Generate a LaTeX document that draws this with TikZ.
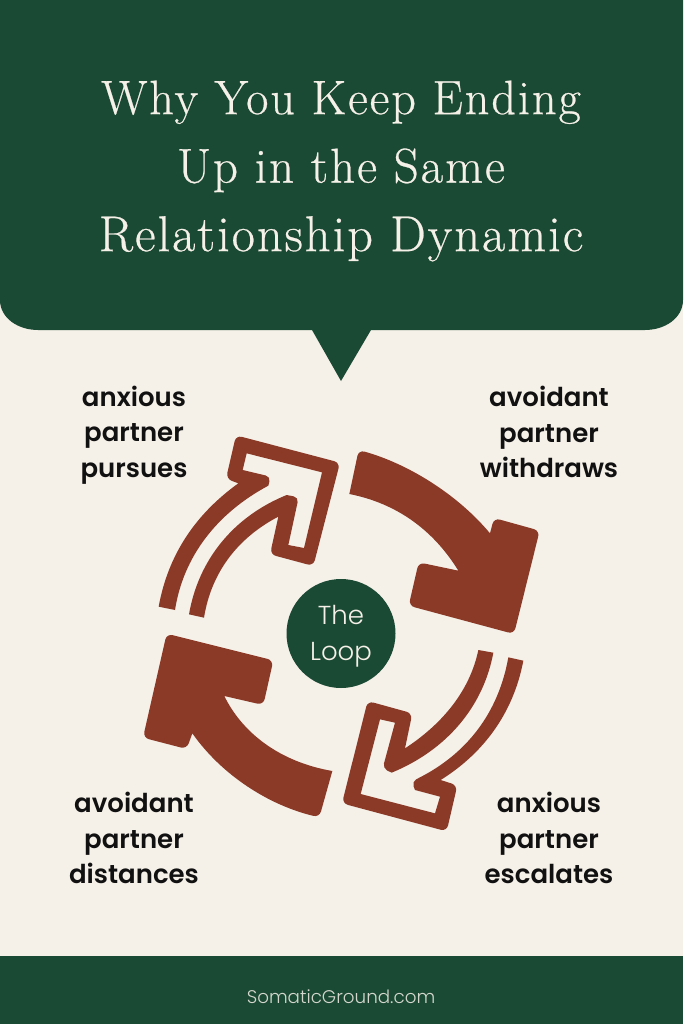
\documentclass[tikz,border=0pt]{standalone}
\usepackage{fontspec}
\newfontfamily\labfont{Poppins}[UprightFont=* SemiBold,BoldFont=* SemiBold]
\newfontfamily\litefont{Poppins}[UprightFont=* Light]
\newfontfamily\titlefont{Latin Modern Roman}[LetterSpace=4,FakeBold=0.5]
\definecolor{deepgreen}{HTML}{1B4A34}
\definecolor{cream}{HTML}{F5F0E8}
\definecolor{rust}{HTML}{8B3A28}
\definecolor{inkblack}{HTML}{111111}
\tikzset{
  arrowshape/.style={fill=rust,draw=none},
  partnerlabel/.style={align=center,text=inkblack,font=\labfont\fontsize{26}{35.5}\selectfont},
  titleline/.style={align=center,text=cream,font=\titlefont\fontsize{49}{68.5}\selectfont},
}
\begin{document}
\begin{tikzpicture}[x=1pt,y=-1pt]
\useasboundingbox (0,0) rectangle (683,1024);
\fill[cream] (0,0) rectangle (683,1024);
% speech bubble
\fill[deepgreen] (0,0) -- (683,0) -- (683,300) .. controls (683,318) and (665,330) .. (645,330)
  -- (371,330) -- (341,381) -- (312,330) -- (38,330) .. controls (18,330) and (0,318) .. (0,300) -- cycle;
% footer
\fill[deepgreen] (0,956) rectangle (683,1024);
\node[titleline] (title) at (341,171) {\fontsize{48.3}{68.5}\selectfont Why You Keep Ending\\\fontsize{49}{68.5}\selectfont Up in the Same\\\fontsize{50.4}{68.5}\selectfont Relationship Dynamic};
\node[text=cream!85!deepgreen,font=\litefont\fontsize{18.3}{20}\selectfont] (footer) at (341,997) {SomaticGround.com};
% top-left arrow
\begin{scope}[shift={(140,420)},scale=1/3]
\fill[arrowshape]
 (56,560) .. controls (85,400) and (170,280) .. (295,190)
 [rounded corners=6pt] -- (258,176) -- (288,46) -- (600,128) -- (520,438) -- (390,403)
 [sharp corners] -- (415,290)
 .. controls (300,350) and (215,450) .. (192,593) -- (147,583)
 .. controls (175,420) and (280,290) .. (440,225)
 [rounded corners=5pt] -- (476,232)
 [sharp corners] -- (445,375) -- (492,384) -- (546,157) -- (320,100) -- (308,150)
 [rounded corners=5pt] -- (392,170)
 [sharp corners] -- (385,197)
 .. controls (230,280) and (130,410) .. (105,570) -- cycle;
\end{scope}
% top-right arrow
\begin{scope}[shift={(340,440)},scale=1/3]
\fill[arrowshape]
 (450,280)
 [rounded corners=6pt] -- (462,234) -- (599,272) -- (522,582) -- (206,497) -- (236,367)
 [sharp corners] -- (355,392)
 .. controls (280,270) and (170,190) .. (28,162)
 [rounded corners=6pt] -- (56,30)
 [sharp corners] .. controls (200,70) and (350,160) .. (450,280) -- cycle;
\end{scope}
% bottom-left arrow
\begin{scope}[shift={(135,625)},scale=1/3]
\fill[arrowshape]
 (268,213) .. controls (320,320) and (430,410) .. (592,438)
 [rounded corners=6pt] -- (553,577)
 [sharp corners] .. controls (400,540) and (260,450) .. (172,325)
 [rounded corners=6pt] -- (155,372) -- (24,338) -- (95,26) -- (415,106) -- (385,240)
 [sharp corners] -- (268,213) -- cycle;
\end{scope}
% bottom-right arrow
\begin{scope}[shift={(340,640)},scale=1/3]
\fill[arrowshape]
 (550,62) .. controls (520,220) and (430,340) .. (302,420)
 [rounded corners=6pt] -- (352,436) -- (320,574) -- (6,490) -- (83,183) -- (217,220)
 [sharp corners] -- (195,325)
 .. controls (310,250) and (390,150) .. (415,30) -- (460,38)
 .. controls (430,200) and (320,330) .. (155,398)
 [rounded corners=5pt] -- (128,385)
 [sharp corners] -- (165,248) -- (120,238) -- (62,462) -- (285,520) -- (300,470) -- (225,450)
 [rounded corners=5pt] -- (215,425)
 [sharp corners] -- (240,412) .. controls (380,340) and (475,220) .. (505,52) -- cycle;
\end{scope}
% centre circle
\node[circle,fill=deepgreen,minimum size=109pt,inner sep=0pt] (loop) at (341,633.5) {};
\node[align=center,text=cream,font=\litefont\fontsize{26}{36}\selectfont] (looptext) at (341,636) {The\\Loop};
% labels
\node[partnerlabel] (pursues) at (134,435) {anxious\\partner\\pursues};
\node[partnerlabel] (withdraws) at (549,432) {avoidant\\partner\\withdraws};
\node[partnerlabel] (distances) at (134,838) {avoidant\\partner\\distances};
\node[partnerlabel] (escalates) at (549,838) {anxious\\partner\\escalates};
\end{tikzpicture}
\end{document}
